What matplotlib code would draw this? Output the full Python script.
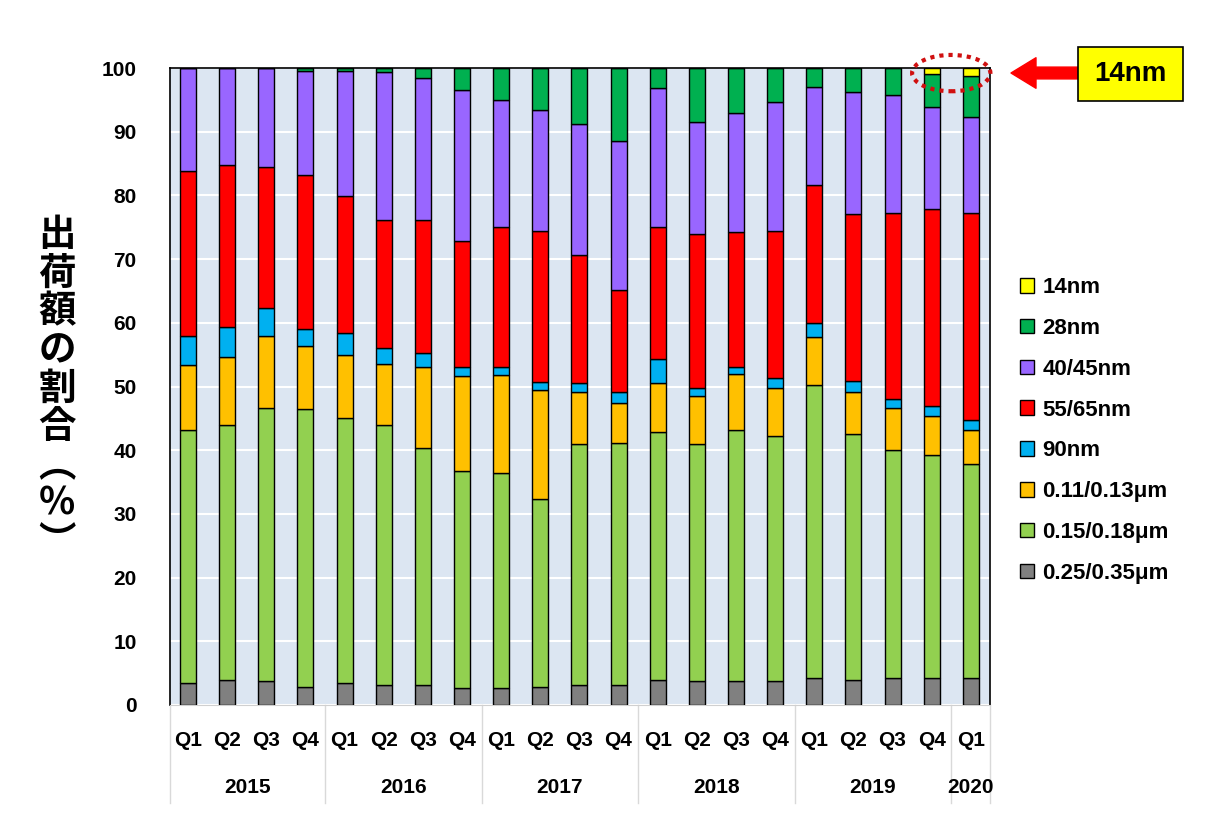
#!/usr/bin/env python3

import numpy as np
import matplotlib
matplotlib.use('Agg')
import matplotlib.pyplot as plt
from matplotlib.patches import Ellipse, Rectangle, Patch

# quarters and years on the category axis
quarters = ['Q1', 'Q2', 'Q3', 'Q4'] * 5 + ['Q1']
years = ['2015', '2016', '2017', '2018', '2019', '2020']

# share of shipment value per node (%), bottom to top
s_025_035 = [3.4, 4.0, 3.7, 2.8, 3.4, 3.1, 3.2, 2.6, 2.6, 2.9, 3.2,
             3.2, 4.0, 3.8, 3.7, 3.7, 4.3, 4.0, 4.2, 4.2, 4.3]
s_015_018 = [39.7, 39.9, 43.0, 43.6, 41.6, 40.8, 37.1, 34.1, 33.8, 29.4, 37.7,
             37.9, 38.8, 37.1, 39.4, 38.6, 46.0, 38.6, 35.8, 35.0, 33.5]
s_011_013 = [10.2, 10.8, 11.2, 9.9, 10.0, 9.7, 12.7, 14.9, 15.4, 17.1, 8.2,
             6.3, 7.7, 7.6, 8.8, 7.4, 7.4, 6.5, 6.6, 6.1, 5.3]
s_90 = [4.6, 4.7, 4.4, 2.8, 3.4, 2.4, 2.2, 1.5, 1.2, 1.3, 1.4,
        1.7, 3.8, 1.2, 1.2, 1.6, 2.2, 1.7, 1.4, 1.6, 1.6]
s_55_65 = [26.0, 25.3, 22.1, 24.1, 21.5, 20.2, 20.9, 19.8, 22.0, 23.7, 20.1,
           16.0, 20.8, 24.2, 21.1, 23.1, 21.8, 26.3, 29.2, 30.9, 32.6]
s_40_45 = [16.1, 15.3, 15.6, 16.4, 19.7, 23.1, 22.4, 23.6, 19.9, 19.0, 20.6,
           23.5, 21.7, 17.6, 18.7, 20.2, 15.3, 19.1, 18.5, 16.1, 15.0]
s_28 = [0, 0, 0, 0.4, 0.4, 0.7, 1.5, 3.5, 5.1, 6.6, 8.8,
        11.4, 3.2, 8.5, 7.1, 5.4, 3.0, 3.8, 4.3, 5.1, 6.4]
s_14 = [0] * 19 + [1.0, 1.3]

series = [
    ('0.25/0.35μm', s_025_035, '#808080'),
    ('0.15/0.18μm', s_015_018, '#92D050'),
    ('0.11/0.13μm', s_011_013, '#FFC000'),
    ('90nm', s_90, '#00B0F0'),
    ('55/65nm', s_55_65, '#FF0000'),
    ('40/45nm', s_40_45, '#9966FF'),
    ('28nm', s_28, '#00B050'),
    ('14nm', s_14, '#FFFF00'),
]

plt.rcParams['font.family'] = ['Liberation Sans', 'DejaVu Sans']
plt.rcParams['font.weight'] = 'bold'

fig = plt.figure(figsize=(12.17, 8.19), dpi=100)
ax = fig.add_axes([170 / 1217, 1 - 705 / 819, 820 / 1217, 637 / 819])
ax.set_facecolor('#DCE6F2')

x = np.arange(len(quarters))
bottom = np.zeros(len(quarters))
for name, vals, col in series:
    vals = np.array(vals)
    ax.bar(x, vals, width=0.41, bottom=bottom, color=col,
           edgecolor='black', linewidth=1.0, zorder=3)
    bottom += vals

ax.set_xlim(-0.46, 20.49)
ax.set_ylim(0, 100)
ax.set_yticks(range(0, 101, 10))
ax.yaxis.grid(True, color='white', linewidth=1.5, zorder=0)
ax.set_axisbelow(True)
ax.tick_params(axis='y', length=0, pad=24, labelsize=15)
for lab in ax.get_yticklabels():
    lab.set_fontweight('bold')
ax.set_xticks([])

for side in ['top', 'left', 'right']:
    ax.spines[side].set_color('black')
    ax.spines[side].set_linewidth(1.2)
ax.spines['bottom'].set_color('#D0D0D0')

# two-level category labels
for i, q in enumerate(quarters):
    ax.text(i, -0.055, q, transform=ax.get_xaxis_transform(),
            ha='center', va='center', fontsize=15, fontweight='bold')
bounds = [-0.46, 3.5, 7.5, 11.5, 15.5, 19.5, 20.49]
for j, yr in enumerate(years):
    mid = (bounds[j] + bounds[j + 1]) / 2
    ax.text(mid, -0.129, yr, transform=ax.get_xaxis_transform(),
            ha='center', va='center', fontsize=15, fontweight='bold')
for b in bounds:
    ax.plot([b, b], [0, -0.154], transform=ax.get_xaxis_transform(),
            color='#D9D9D9', linewidth=1, clip_on=False)

# vertical Japanese axis title
fig.text(57 / 1217, 1 - 388 / 819, '出\n荷\n額\nの\n割\n合\n︵\n%\n︶',
         ha='center', va='center', fontsize=27, fontweight='bold',
         family=['Noto Sans CJK JP', 'DejaVu Sans'], linespacing=0.98)

# legend, top entry = top of stack
handles = [Patch(facecolor=c, edgecolor='black', linewidth=1) for _, _, c in series][::-1]
labels = [n for n, _, _ in series][::-1]
ax.legend(handles, labels, loc='center left', bbox_to_anchor=(1.036, 0.431),
          frameon=False, borderaxespad=0, borderpad=0,
          handlelength=0.63, handleheight=0.63, handletextpad=0.4,
          labelspacing=0.89, prop={'weight': 'bold', 'size': 16})

# highlight of the 14nm node
ell = Ellipse((19.5, 99.2), 2.0, 5.7, fill=False, edgecolor='#D01010',
              linestyle=(0, (1, 1.2)), linewidth=3, clip_on=False, zorder=5)
ax.add_patch(ell)
fig.patches.append(Rectangle((1078 / 1217, 1 - 101 / 819), 105 / 1217, 54 / 819,
                             transform=fig.transFigure, facecolor='#FFFF00',
                             edgecolor='black', linewidth=1.2))
fig.text(1130 / 1217, 1 - 74 / 819, '14nm', ha='center', va='center',
         fontsize=20, fontweight='bold')
ax.annotate('', xy=(1011 / 1217, 1 - 73 / 819), xytext=(1078 / 1217, 1 - 73 / 819),
            xycoords='figure fraction', textcoords='figure fraction',
            arrowprops=dict(arrowstyle='simple,head_width=2.2,head_length=1.8,tail_width=0.85',
                            color='#FF0000', mutation_scale=10, shrinkA=0, shrinkB=0))

fig.savefig('out.png', dpi=100)
